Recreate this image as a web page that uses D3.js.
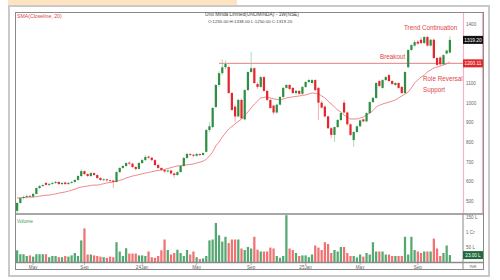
<!DOCTYPE html>
<html>
<head>
<meta charset="utf-8">
<script src="https://cdn.jsdelivr.net/npm/d3@7"></script>
<style>
  body { margin: 0; background: #fff; }
  svg { display: block; font-family: "Liberation Sans", Arial, sans-serif; }
</style>
</head>
<body>
<script>
// weekly candles
const opens = [450,490,515,520,526,522,536,566,576,592,582,587,592,597,586,594,586,592,597,607,627,652,637,627,642,632,617,607,610,605,
  604,597,647,668,678,695,690,673,663,693,708,726,720,708,683,668,658,650,655,640,632,647,678,719,739,735,730,739,734,750,
  861,876,978,1090,1150,1180,1181,1049,980,930,1014,915,1064,1156,1175,1095,1080,1130,1060,1014,985,950,990,1029,1075,1090,1075,1049,1060,1045,
  1080,1105,1100,1115,1075,1000,980,930,870,836,876,912,1000,950,890,810,851,880,915,905,947,1003,1024,1110,1075,1115,1140,1110,1090,1100,
  1080,1049,1180,1268,1290,1310,1320,1303,1334,1290,1320,1227,1230,1195,1250,1255];
const highs = [495,520,528,532,530,540,570,582,588,596,592,598,603,600,596,598,597,602,612,632,662,656,642,648,646,636,622,616,614,610,
  608,652,672,684,698,702,694,678,698,714,735,730,724,712,688,672,662,660,658,644,652,684,724,745,744,739,745,742,750,866,
  900,978,1095,1160,1220,1215,1186,1054,990,1020,1020,1070,1160,1258,1180,1105,1136,1135,1066,1020,990,995,1034,1080,1096,1094,1080,1066,1064,1086,
  1110,1122,1120,1120,1080,1010,985,935,876,880,916,952,1014,956,895,856,884,915,920,952,1008,1030,1105,1116,1120,1136,1146,1115,1105,1104,
  1085,1160,1272,1298,1320,1318,1334,1340,1340,1325,1326,1232,1236,1246,1270,1338];
const lows = [440,485,508,512,515,518,532,560,570,578,576,582,586,582,580,582,582,588,592,603,622,632,622,622,628,612,602,600,598,596,
  566,594,642,662,672,684,668,656,660,688,704,714,702,678,662,652,644,645,636,618,628,644,674,714,728,722,726,728,730,746,
  850,870,972,1080,1140,1170,1044,958,900,925,915,910,1058,1150,1095,1070,1075,1055,1008,968,940,944,985,1024,1070,1064,1044,1040,1040,1040,
  1074,1100,1095,1058,912,970,925,866,820,800,870,906,945,885,830,775,845,874,900,900,942,998,1018,1080,1070,1110,1105,1090,1085,1070,
  1044,1044,1175,1262,1285,1295,1298,1298,1285,1284,1222,1185,1188,1190,1245,1250];
const closes = [490,515,520,525,522,536,566,576,581,582,587,592,597,586,592,586,592,597,607,627,652,637,627,642,632,617,607,610,605,602,
  597,647,668,678,693,690,673,663,693,708,724,720,708,683,668,658,650,655,640,632,647,678,719,739,735,730,739,734,744,861,
  880,973,1090,1150,1180,1197,1049,963,930,1014,920,1064,1156,1175,1100,1080,1130,1060,1014,973,950,990,1029,1075,1090,1070,1049,1060,1045,1080,
  1105,1115,1115,1064,1000,975,930,870,836,876,912,947,950,890,836,851,880,910,905,947,1003,1024,1100,1085,1115,1130,1110,1095,1100,1075,
  1049,1156,1268,1293,1308,1300,1303,1334,1290,1320,1227,1192,1195,1242,1265,1319.2];
// volume in lakh shares
const volumes = [39,26,26,20,22,18,26,26,26,26,16,20,20,16,16,20,18,22,30,20,72,112,25,25,22,20,18,16,14,18,
  16,66,35,20,46,28,28,28,22,22,20,35,16,14,20,39,75,40,25,30,41,30,20,40,25,35,16,10,12,20,
  72,75,130,89,68,84,63,75,75,75,45,40,50,45,84,41,35,35,35,48,45,20,14,20,156,45,40,30,20,22,
  22,16,25,55,48,40,66,60,30,40,35,50,50,30,20,20,15,25,18,30,25,66,35,35,35,25,25,20,20,20,
  20,84,25,84,40,35,30,35,35,35,78,45,20,30,55,23];
// SMA(close, 20) as drawn on the picture
const sma = [515,517,518,519,520,520,522,525,527,529,530,533,536,540,543,546,550,555,560,566,571,574,576,579,581,581,584,588,592,594,
  597,600,605,610,617,622,627,630,634,638,642,645,649,653,655,658,661,665,670,674,678,680,682,684,686,688,693,697,703,712,
  729,750,780,800,825,845,866,879,892,905,917,935,953,973,993,1008,1024,1027,1029,1024,1019,1017,1014,1019,1024,1027,1029,1032,1034,1037,
  1039,1044,1049,1047,1044,1034,1024,1008,993,978,963,953,937,927,917,917,917,922,927,937,947,960,978,986,993,998,1003,1008,1014,1024,
  1034,1044,1054,1075,1100,1115,1130,1140,1156,1166,1176,1181,1186,1192,1197,1207];

// 1200 and 1300 sit under the value boxes, so they are not printed
const priceTicks = [500, 600, 700, 800, 900, 1000, 1100, 1400];
const volTicks = [50, 100, 150];
const volTickLabels = ['50 L', '1 Cr', '150 L'];
const monthIdx = [5, 21, 39, 56, 73, 90, 107, 125];
const monthLabels = ['May', 'Sep', '24Jan', 'May', 'Sep', '25Jan', 'May', 'Sep'];
const breakoutLevel = 1200;
const breakoutStart = 63;

const green = '#2f8f45', red = '#e6262c';
const volGreen = '#55a872', volRed = '#f07272';
const annot = '#e0454a';

const svg = d3.select('body').append('svg')
  .attr('width', 500)
  .attr('height', 280);

// frames
svg.append('rect').attr('x', 8).attr('y', 0).attr('width', 229).attr('height', 5).attr('fill', '#fde3bf');
svg.append('rect').attr('x', 9).attr('y', 6).attr('width', 480).attr('height', 270)
  .attr('fill', 'none').attr('stroke', '#c9c9c9').attr('stroke-width', 2);
svg.append('rect').attr('x', 15.5).attr('y', 12.5).attr('width', 468).attr('height', 257)
  .attr('fill', 'none').attr('stroke', '#8a8a8a').attr('stroke-width', 1);

const n = closes.length;
const x = d3.scaleBand().domain(d3.range(n)).range([16, 451]).paddingInner(0.3);
const y = d3.scaleLinear().domain([500, 1400]).range([201, 24]);
const yv = d3.scaleLinear().domain([0, 160]).range([262, 214]);
const bw = x.bandwidth();
const cx = i => x(i) + bw / 2;

svg.append('clipPath').attr('id', 'pc').append('rect')
  .attr('x', 15).attr('y', 13).attr('width', 448).attr('height', 200);

const price = svg.append('g').attr('clip-path', 'url(#pc)');

// breakout line
price.append('line')
  .attr('x1', cx(breakoutStart)).attr('x2', 463)
  .attr('y1', y(breakoutLevel)).attr('y2', y(breakoutLevel))
  .attr('stroke', '#ea8080').attr('stroke-width', 1);

// sma
price.append('path')
  .datum(d3.range(n))
  .attr('fill', 'none')
  .attr('stroke', '#ec7a7a')
  .attr('stroke-width', 0.9)
  .attr('d', d3.line().x(i => cx(i)).y(i => y(sma[i])).curve(d3.curveMonotoneX));

const candles = price.selectAll('.c').data(d3.range(n)).enter().append('g');
candles.append('line')
  .attr('x1', cx).attr('x2', cx)
  .attr('y1', i => y(highs[i])).attr('y2', i => y(lows[i]))
  .attr('stroke', i => closes[i] >= opens[i] ? '#8cc79b' : '#f08a8d')
  .attr('stroke-width', 0.7);
candles.append('rect')
  .attr('x', i => x(i))
  .attr('width', bw)
  .attr('y', i => y(Math.max(opens[i], closes[i])))
  .attr('height', i => Math.max(0.8, Math.abs(y(opens[i]) - y(closes[i]))))
  .attr('fill', i => closes[i] >= opens[i] ? green : red);

// volume
svg.selectAll('.v').data(d3.range(n)).enter().append('rect')
  .attr('x', i => x(i))
  .attr('width', bw)
  .attr('y', i => yv(volumes[i]))
  .attr('height', i => yv(0) - yv(volumes[i]))
  .attr('fill', i => closes[i] >= opens[i] ? volGreen : volRed);

// panel separators
svg.append('line').attr('x1', 15).attr('x2', 483).attr('y1', 214).attr('y2', 214)
  .attr('stroke', '#8a8a8a').attr('stroke-width', 1.5);
svg.append('line').attr('x1', 15).attr('x2', 483).attr('y1', 262.5).attr('y2', 262.5)
  .attr('stroke', '#8a8a8a').attr('stroke-width', 1.5);
svg.append('line').attr('x1', 463).attr('x2', 463).attr('y1', 214).attr('y2', 270)
  .attr('stroke', '#8a8a8a').attr('stroke-width', 1);
// pinkish axis strip of the price panel
svg.append('line').attr('x1', 463.5).attr('x2', 463.5).attr('y1', 13).attr('y2', 213)
  .attr('stroke', '#f2b3c8').attr('stroke-width', 1.2);
svg.append('line').attr('x1', 482.5).attr('x2', 482.5).attr('y1', 13).attr('y2', 213)
  .attr('stroke', '#f2b3c8').attr('stroke-width', 1.2);

// price axis
const pa = svg.append('g').attr('transform', 'translate(466,0)')
  .call(d3.axisRight(y).tickValues(priceTicks).tickSize(0).tickPadding(0).tickFormat(d3.format('d')));
pa.select('.domain').remove();
pa.selectAll('text').attr('font-size', 4.6).attr('fill', '#666').attr('font-family', 'Liberation Sans, Arial');

// volume axis
const va = svg.append('g').attr('transform', 'translate(466,0)')
  .call(d3.axisRight(yv).tickValues(volTicks).tickSize(0).tickPadding(0)
    .tickFormat((d, k) => volTickLabels[k]));
va.select('.domain').remove();
va.selectAll('text').attr('font-size', 4.6).attr('fill', '#666').attr('font-family', 'Liberation Sans, Arial');

// x axis
const xa = svg.append('g').attr('transform', 'translate(0,263)')
  .call(d3.axisBottom(x).tickValues(monthIdx).tickSize(2).tickPadding(1)
    .tickFormat((d, k) => monthLabels[k]));
xa.select('.domain').remove();
xa.selectAll('line').attr('stroke', '#888').attr('stroke-width', 0.6);
xa.selectAll('text').attr('font-size', 4.6).attr('fill', '#666').attr('font-family', 'Liberation Sans, Arial');
svg.append('text').attr('x', 473).attr('y', 268).attr('text-anchor', 'middle')
  .attr('font-size', 4.2).attr('fill', '#777').text('INR');

// value boxes
const last = n - 1;
function valueBox(v, txt, fill) {
  svg.append('rect').attr('x', 463).attr('y', y(v) - 4).attr('width', 20).attr('height', 8).attr('fill', fill);
  svg.append('text').attr('x', 473).attr('y', y(v) + 1.7).attr('text-anchor', 'middle')
    .attr('font-size', 4.8).attr('fill', '#fff').text(txt);
}
valueBox(closes[last], closes[last].toFixed(2), '#111');
valueBox(breakoutLevel, '1200.11', '#e02a2a');
svg.append('rect').attr('x', 463).attr('y', yv(volumes[last]) - 4).attr('width', 20).attr('height', 8).attr('fill', '#1f6b3d');
svg.append('text').attr('x', 473).attr('y', yv(volumes[last]) + 1.7).attr('text-anchor', 'middle')
  .attr('font-size', 4.6).attr('fill', '#fff').text(volumes[last].toFixed(2) + ' L');

// header texts
svg.append('text').attr('x', 17).attr('y', 18).attr('font-size', 5.2).attr('fill', annot)
  .text('SMA(Closeline, 20)');
svg.append('text').attr('x', 252).attr('y', 16).attr('text-anchor', 'middle').attr('font-size', 4.8).attr('fill', '#444')
  .text('Uno Minda Limited(UNOMINDA) - 1W(NSE)');
svg.append('text').attr('x', 250).attr('y', 23).attr('text-anchor', 'middle').attr('font-size', 4.4).attr('fill', '#444')
  .text('O:' + opens[last].toFixed(2) + ' H:' + highs[last].toFixed(2) + ' L:' + lows[last].toFixed(2) + ' C:' + closes[last].toFixed(2));
svg.append('text').attr('x', 17).attr('y', 223).attr('font-size', 4.8).attr('fill', '#3f9a5c').text('Volume');

// annotations
const notes = [
  { t: 'Trend Continuation', x: 404, y: 30 },
  { t: 'Breakout', x: 380, y: 59 },
  { t: 'Role Reversal', x: 423, y: 81 },
  { t: 'Support', x: 423, y: 92 }
];
svg.selectAll('.note').data(notes).enter().append('text')
  .attr('x', d => d.x).attr('y', d => d.y)
  .attr('font-size', 6.3).attr('fill', annot)
  .text(d => d.t);
</script>
</body>
</html>
